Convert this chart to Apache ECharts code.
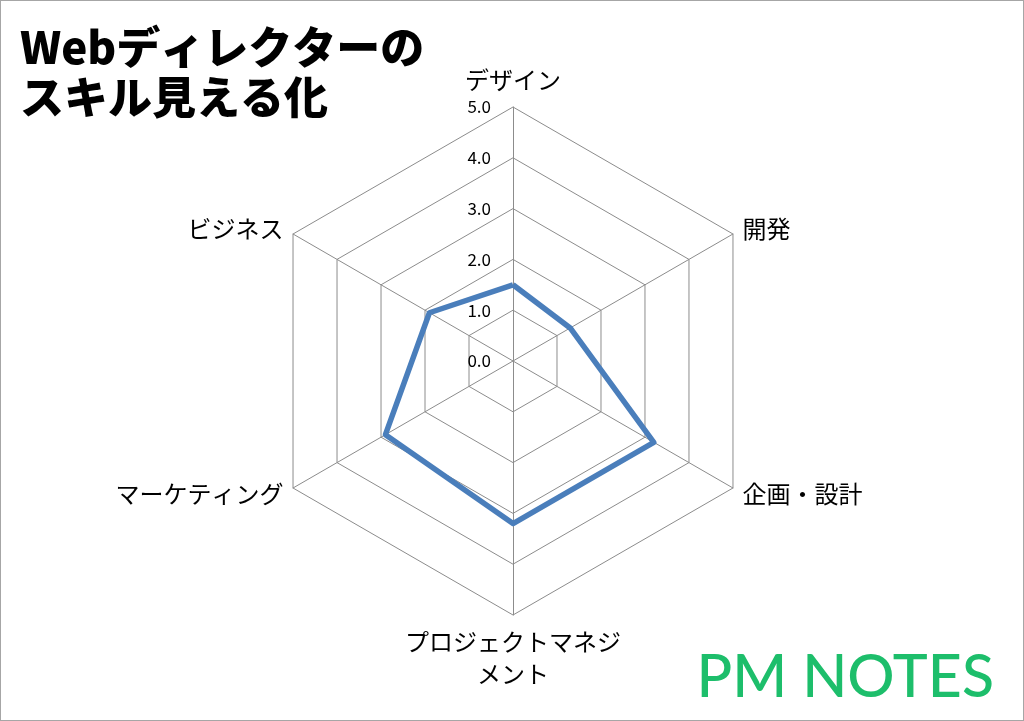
<!DOCTYPE html>
<html>
<head>
<meta charset="utf-8">
<script src="https://cdn.jsdelivr.net/npm/echarts@6/dist/echarts.min.js"></script>
<style>
  html, body { margin: 0; padding: 0; background: #fff; }
  #main { width: 1024px; height: 721px; box-sizing: border-box; border: 1px solid #a6a6a6; }
</style>
</head>
<body>
<div id="main"></div>
<script>
// スキル項目と評価値（時計回り）
var skills = ['デザイン', '開発', '企画・設計', 'プロジェクトマネジメント', 'マーケティング', 'ビジネス'];
var scores = [1.5, 1.3, 3.2, 3.2, 2.9, 1.9];
var ticks = ['0.0', '1.0', '2.0', '3.0', '4.0', '5.0'];
var maxScore = 5;

// echartsのradarは反時計回りなので、先頭以外を逆順にする
function cw(arr) {
  return [arr[0]].concat(arr.slice(1).reverse());
}

var myChart = echarts.init(document.getElementById('main'));
var font = '"Noto Sans CJK JP", "Noto Sans", sans-serif';

var option = {
  backgroundColor: '#fff',
  animation: false,
  title: [
    {
      text: 'Webディレクターの\nスキル見える化',
      left: 14,
      top: 16,
      textStyle: { fontFamily: font, fontSize: 44, fontWeight: 900, color: '#000', lineHeight: 50 }
    },
    {
      text: 'PM NOTES',
      right: 24,
      bottom: 8,
      textStyle: { fontFamily: '"Lato", "Open Sans", sans-serif', fontSize: 59, fontWeight: 500, color: '#1dbe6b' }
    }
  ],
  radar: {
    center: [512, 360],
    radius: 254,
    startAngle: 90,
    splitNumber: 5,
    shape: 'polygon',
    indicator: cw(skills).map(function (s) { return { name: s, max: maxScore, min: 0 }; }),
    axisName: {
      color: '#000',
      fontFamily: font,
      fontSize: 24,
      formatter: function (n) {
        return n === 'プロジェクトマネジメント' ? 'プロジェクトマネジ\nメント' : n;
      },
      lineHeight: 32
    },
    nameGap: 11,
    axisLine: { lineStyle: { color: '#8c8c8c', width: 1 } },
    splitLine: { lineStyle: { color: '#8c8c8c', width: 1 } },
    splitArea: { show: false }
  },
  polar: { center: [512, 360], radius: 254 },
  angleAxis: { show: false, startAngle: 90, min: 0, max: 360 },
  radiusAxis: {
    min: 0,
    max: maxScore,
    interval: 1,
    axisLine: { show: false },
    axisTick: { show: false },
    splitLine: { show: false },
    axisLabel: {
      show: true,
      margin: 22,
      fontFamily: font,
      fontSize: 17,
      color: '#000',
      formatter: function (v) { return ticks[Math.round(v)]; }
    }
  },
  series: [
    {
      type: 'radar',
      symbol: 'none',
      lineStyle: { color: '#4a7ebb', width: 5.5 },
      data: [{ value: cw(scores), name: 'スキル' }]
    }
  ]
};
myChart.setOption(option);
</script>
</body>
</html>
